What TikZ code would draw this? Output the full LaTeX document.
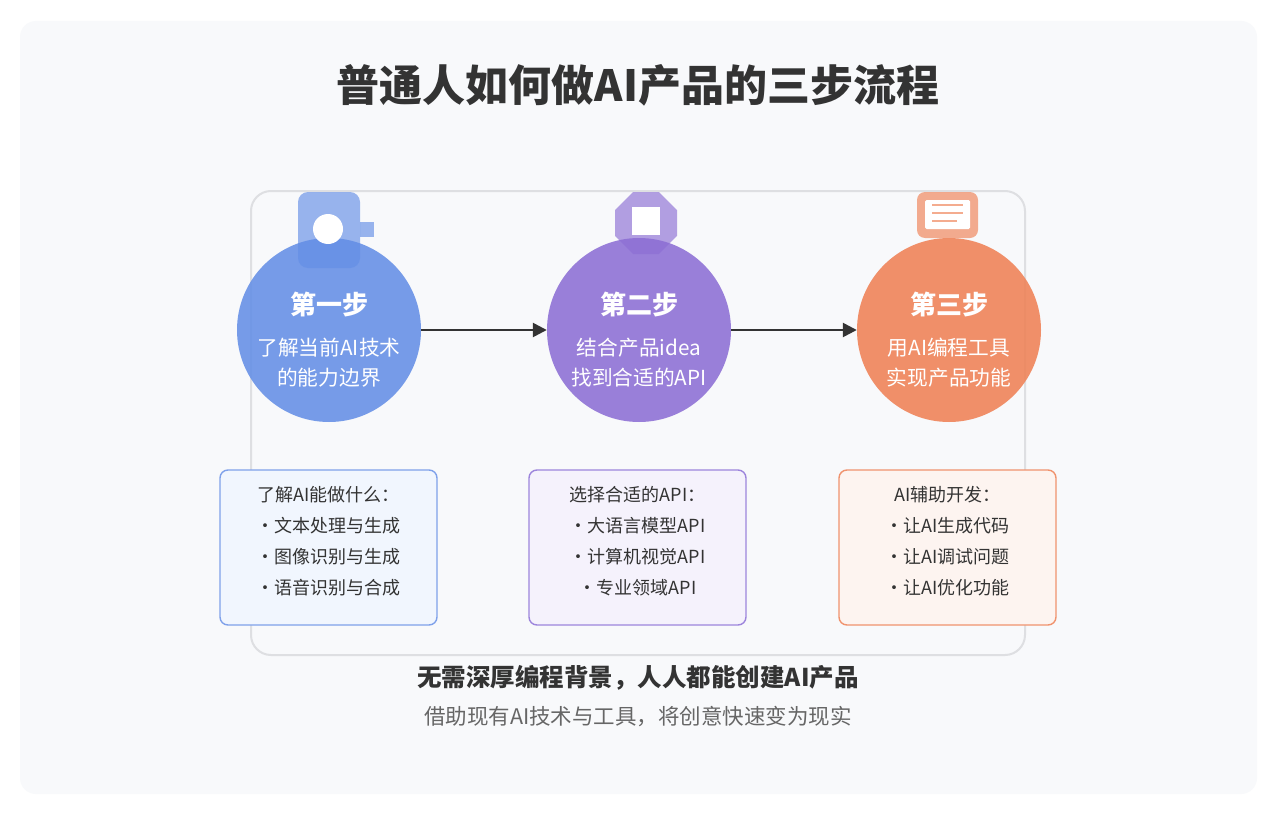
\documentclass[tikz,border=0pt]{standalone}
\usepackage{fontspec}
\setmainfont{Noto Sans CJK SC}
\usetikzlibrary{arrows.meta}
\definecolor{panelbg}{HTML}{F8F9FB}
\definecolor{framec}{HTML}{DEDFE2}
\definecolor{blueC}{HTML}{638EE6}
\definecolor{purpleC}{HTML}{8C6ED4}
\definecolor{orangeC}{HTML}{EF8054}
\definecolor{bluefill}{HTML}{F1F6FE}
\definecolor{purplefill}{HTML}{F5F2FC}
\definecolor{orangefill}{HTML}{FDF4F0}
\definecolor{blueline}{HTML}{7FA1EA}
\definecolor{purpleline}{HTML}{9D85DC}
\definecolor{orangeline}{HTML}{F0936E}
\definecolor{textdark}{HTML}{333333}
\definecolor{textgray}{HTML}{666666}
\definecolor{arrowc}{HTML}{333333}
\begin{document}
\begin{tikzpicture}[x=1pt,y=-1pt,
  stepcirc/.style={circle, minimum size=184pt, inner sep=0pt, fill opacity=0.87},
  iconfill/.style={fill opacity=0.65},
  infobox/.style={rounded corners=8pt, line width=1.4pt, minimum width=217pt, minimum height=155pt, inner sep=0pt},
  steptitle/.style={text=white, font=\fontsize{26}{30}\selectfont\bfseries},
  stepdesc/.style={text=white, align=center, font=\fontsize{20.7}{29.5}\selectfont},
  boxtext/.style={text=textdark, align=center, font=\fontsize{18}{31}\selectfont},
  flowarrow/.style={draw=arrowc, line width=2.5pt, -{Triangle[length=14pt,width=14pt]}}
]
\useasboundingbox (0,0) rectangle (1280,816);
\fill[white] (0,0) rectangle (1280,816);
% outer panel
\fill[panelbg, rounded corners=16pt] (20,21) rectangle (1257,794);
% title
\node[text=textdark, font=\fontsize{43}{50}\selectfont\bfseries] (title) at (638,85) {普通人如何做AI产品的三步流程};
% inner frame
\draw[framec, line width=2pt, rounded corners=20pt] (251,191) rectangle (1025,655);
% circles
\node[stepcirc, fill=blueC] (c1) at (329,330) {};
\node[stepcirc, fill=purpleC] (c2) at (639,330) {};
\node[stepcirc, fill=orangeC] (c3) at (949,330) {};
% icon 1
\fill[blueC, iconfill, rounded corners=10pt] (298,192) rectangle (360,268);
\fill[blueC, iconfill] (360,222) rectangle (374,237);
\fill[white] (328,229) circle[radius=15pt];
% icon 2
\fill[purpleC, iconfill] (633.2,192) -- (658.8,192) -- (677,210.2) -- (677,235.8) -- (658.8,254) -- (633.2,254) -- (615,235.8) -- (615,210.2) -- cycle;
\fill[white] (632,207) rectangle (660,235);
% icon 3
\fill[orangeC, iconfill, rounded corners=8pt] (917,192) rectangle (978,238);
\fill[white, rounded corners=1.5pt] (925,200) rectangle (970,229);
\draw[orangeC, opacity=0.65, line width=2pt] (932,205) -- (963,205);
\draw[orangeC, opacity=0.65, line width=2pt] (932,213) -- (963,213);
\draw[orangeC, opacity=0.65, line width=2pt] (932,221) -- (957,221);
% circle texts
\node[steptitle] (s1t) at (329,305) {第一步};
\node[stepdesc] (s1d) at (329,362.5) {了解当前AI技术\\的能力边界};
\node[steptitle] (s2t) at (639,305) {第二步};
\node[stepdesc] (s2d) at (639,362.5) {结合产品idea\\找到合适的API};
\node[steptitle] (s3t) at (949,305) {第三步};
\node[stepdesc] (s3d) at (949,362.5) {用AI编程工具\\实现产品功能};
% arrows
\draw[flowarrow] (c1) -- (c2);
\draw[flowarrow] (c2) -- (c3);
% info boxes
\node[infobox, draw=blueline, fill=bluefill] (b1) at (328.5,547.5) {};
\node[infobox, draw=purpleline, fill=purplefill] (b2) at (637.5,547.5) {};
\node[infobox, draw=orangeline, fill=orangefill] (b3) at (947.5,547.5) {};
\node[boxtext] (b1t) at (328.5,541.5) {了解AI能做什么：\\•文本处理与生成\\•图像识别与生成\\•语音识别与合成};
\node[boxtext] (b2t) at (637.5,541.5) {选择合适的API：\\•大语言模型API\\•计算机视觉API\\•专业领域API};
\node[boxtext] (b3t) at (947.5,541.5) {AI辅助开发：\\•让AI生成代码\\•让AI调试问题\\•让AI优化功能};
% bottom texts
\node[text=textdark, font=\fontsize{24.5}{28}\selectfont\bfseries] (foot1) at (638,678) {无需深厚编程背景，人人都能创建AI产品};
\node[text=textgray, font=\fontsize{21.5}{25}\selectfont] (foot2) at (638,717) {借助现有AI技术与工具，将创意快速变为现实};
\end{tikzpicture}
\end{document}
